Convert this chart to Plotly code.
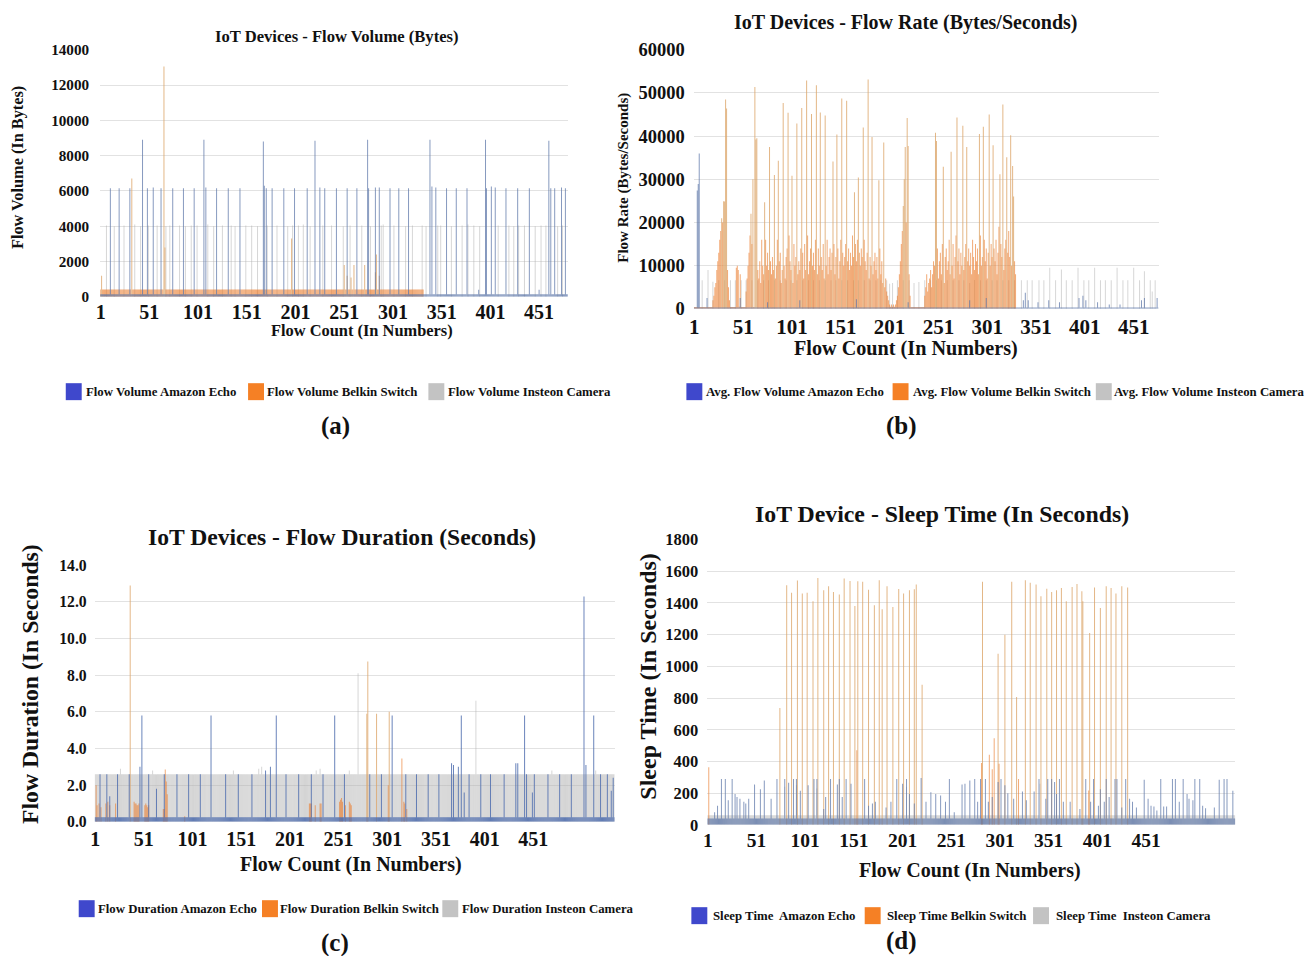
import numpy as np
import plotly.graph_objects as go

FONT = "Liberation Serif"
W, H = 1309, 956

DEVICES = ["Amazon Echo", "Belkin Switch", "Insteon Camera"]
LEGEND_COLORS = ["#3f48cc", "#f58025", "#c3c3c3"]
X_TICKS = [1, 51, 101, 151, 201, 251, 301, 351, 401, 451]

# ---------------- (a) Flow Volume (Bytes) ----------------
n_a = 480
echo_a_runs = [(1, 480, 150)]
echo_a_spikes = {44: 8900, 107: 8900, 168: 8800, 221: 8850, 275: 8900, 339: 8900, 396: 8900, 461: 8850,
                 11: 6150, 20: 6150, 31: 6150, 49: 6150, 55: 6200, 63: 6150, 75: 6150, 86: 6150, 97: 6150,
                 109: 6200, 120: 6150, 132: 6150, 144: 6150, 169: 6300, 171: 6150, 177: 6150, 189: 6150,
                 200: 6150, 213: 6150, 226: 6200, 231: 6150, 243: 6150, 254: 6150, 264: 6150, 276: 6150,
                 283: 6200, 287: 6200, 298: 6150, 307: 6150, 317: 6150, 341: 6250, 345: 6200, 356: 6150,
                 366: 6150, 377: 6150, 397: 6150, 402: 6250, 406: 6200, 417: 6150, 429: 6150, 441: 6150,
                 463: 6150, 467: 6150, 474: 6200, 478: 6150, 389: 400, 451: 400}
belkin_a_runs = [(1, 332, 420)]
belkin_a_spikes = {2: 1200, 33: 6700, 66: 13050, 67: 2800, 197: 3300, 251: 1800, 254: 1200, 258: 1100,
                   261: 1800, 272: 1800, 283: 1400, 284: 2400, 287: 1200}
camera_a_runs = []
camera_a_spikes = {7: 4050, 15: 4000, 25: 4050, 36: 4100, 42: 4000, 50: 4050, 59: 4050, 68: 4000, 72: 4050,
                   82: 4050, 88: 4000, 94: 4050, 100: 4050, 111: 4100, 117: 4000, 126: 4050, 135: 4050,
                   139: 4000, 150: 4050, 156: 4050, 162: 4000, 172: 4050, 182: 4050, 193: 4000, 198: 4050,
                   204: 4050, 209: 4100, 216: 4000, 229: 4050, 238: 4050, 250: 4000, 257: 4050, 269: 4050,
                   278: 4000, 289: 4050, 291: 4100, 302: 4050, 314: 4000, 321: 4050, 331: 4050, 335: 4000,
                   347: 4050, 350: 4050, 361: 4000, 372: 4050, 378: 4100, 384: 4050, 390: 4000, 409: 4050,
                   420: 4050, 425: 4000, 430: 4050, 436: 4050, 447: 4000, 453: 4050, 458: 4050, 470: 4000,
                   475: 4050}

# ---------------- (b) Flow Rate (Bytes/Seconds) ----------------
n_b = 476
echo_b_runs = [(1, 476, 300)]
echo_b_spikes = {4: 27400, 5: 28900, 6: 36000, 14: 2500, 48: 2500, 76: 1500, 109: 2000, 167: 2200, 220: 1500,
                 283: 2000, 300: 2500, 338: 2000, 340: 3700, 343: 2000, 353: 1500, 364: 2000, 375: 1500,
                 395: 2500, 399: 3000, 402: 2000, 414: 1500, 426: 1000, 437: 1000, 459: 2000, 462: 2500,
                 475: 2500}
belkin_b_runs = [(1, 330, 400)]
# dense mid-level flow rates, in thousands of bytes/second: (first flow, values...)
belkin_b_segments_k = [
    (20, [2, 3, 5, 6, 9, 11, 13, 16, 18, 21, 20, 24.9, 48.5, 46.4, 12, 9, 5, 2]),
    (44, [9.5, 10, 9, 0.5, 8]),
    (54, [4, 7, 10, 13, 17, 22, 15, 30]),
    (66, [9, 7, 11, 6, 16, 10, 8, 12, 7, 10, 13, 9, 6, 11, 8,
          12, 9, 14, 7, 10, 16, 8, 11, 13, 6, 9, 15, 10, 7, 12,
          14, 8, 17, 11, 9, 13, 6, 15, 10, 12, 16, 8, 11, 9, 14,
          10, 13, 7, 15, 9, 12, 17, 8, 11, 14, 6, 10, 13, 9, 16,
          11, 8, 14, 10, 17, 12, 9, 15, 7, 13, 10, 16, 8, 12, 14,
          9, 13, 11, 15, 8, 12, 10, 14, 7, 11, 16, 9, 13, 10, 12,
          15, 8, 11, 14, 9, 13, 10, 17, 12, 8, 15, 11, 16, 9, 13,
          10, 14, 12, 8, 16, 11, 9, 13, 15, 7, 12, 10, 14, 8, 11,
          13, 9, 12, 7, 10, 14, 8, 11, 6, 9, 5, 7, 4, 3, 2]),
    (201, [1, 0.5, 1, 0.5, 1, 0.5, 1]),
    (208, [2, 3, 5, 8, 11, 15, 18, 23.8, 30, 37.5, 20, 44.2, 37.7, 8, 3]),
    (237, [3, 5, 8, 4, 6, 7, 9, 5, 8, 11]),
    (247, [10, 12, 9, 14, 7, 11, 13, 8, 15, 10, 6, 12, 14, 9, 11,
           16, 8, 13, 10, 15, 7, 12, 17, 9, 11, 14, 8, 13, 10, 16,
           9, 12, 15, 7, 11, 14, 10, 13, 8, 16, 12, 9, 15, 11, 14,
           8, 13, 17, 10, 12, 9, 16, 11, 14, 7, 13, 18, 10, 15, 12,
           9, 14, 11, 16, 8, 13, 19, 10, 15, 12, 17, 9, 14, 16, 11,
           13, 18, 12, 15, 10, 14, 13, 11, 8]),
]
belkin_b_spikes = {32: 24850, 33: 48460, 34: 46400, 63: 51400, 64: 39200, 65: 39500, 73: 24700, 74: 16000,
                   78: 37500, 83: 31000, 87: 34300, 92: 47700, 97: 45400, 101: 30800, 106: 42900, 111: 46500,
                   116: 52900, 121: 45100, 126: 51800, 130: 45500, 135: 44800, 143: 34100, 147: 40400,
                   152: 48700, 157: 48200, 165: 27000, 169: 30400, 174: 42000, 179: 53100, 183: 39800,
                   190: 29800, 195: 38500, 248: 40800, 249: 38900, 256: 32900, 264: 36400, 270: 44300,
                   276: 42400, 280: 37500, 293: 40500, 297: 42200, 303: 45000, 307: 37900, 314: 31200,
                   317: 47300, 321: 35100, 325: 40200, 327: 33100, 328: 26000}
camera_b_runs = []
camera_b_spikes = {9: 6600, 15: 9000, 20: 6300, 26: 6600, 32: 6600, 38: 6600, 43: 6600, 49: 6600, 54: 6600,
                   60: 6600, 66: 6600, 72: 6600, 77: 6600, 83: 6600, 89: 6600, 95: 6600, 100: 6600, 106: 6600,
                   112: 6600, 118: 6600, 123: 6600, 129: 6600, 135: 6600, 141: 6600, 146: 6600, 152: 6600,
                   158: 6600, 164: 6600, 169: 6600, 175: 6600, 181: 6600, 187: 6600, 192: 6600, 198: 6600,
                   201: 5800, 204: 6000, 209: 6600, 215: 6600, 221: 6600, 226: 6000, 231: 6200, 237: 6600,
                   243: 6600, 249: 6600, 254: 6600, 260: 6600, 266: 6600, 272: 6600, 277: 6600, 283: 6000,
                   288: 6700, 294: 6600, 300: 6600, 306: 6600, 311: 6600, 317: 6600, 323: 6600, 329: 6600,
                   336: 6600, 342: 6600, 347: 6600, 354: 6600, 359: 6600, 365: 9500, 371: 6600, 377: 9100,
                   382: 6600, 388: 6600, 394: 9500, 400: 6600, 405: 6600, 411: 9500, 417: 6600, 422: 6600,
                   428: 6600, 434: 9500, 440: 6600, 445: 6600, 451: 9500, 457: 6600, 462: 8700, 468: 6600,
                   470: 4000, 473: 6600}

# ---------------- (c) Flow Duration (Seconds) ----------------
n_c = 534
echo_c_runs = [(1, 534, 0.25)]
echo_c_spikes = {6: 2.6, 13: 2.6, 16: 1.4, 24: 2.6, 36: 2.6, 47: 3.0, 49: 5.8, 56: 2.6, 64: 1.8, 72: 2.6,
                 85: 2.6, 97: 2.6, 109: 2.6, 120: 5.8, 135: 2.6, 148: 2.6, 162: 2.6, 176: 2.8, 181: 3.0,
                 187: 5.8, 197: 2.6, 210: 2.6, 223: 2.6, 235: 2.6, 247: 5.8, 257: 2.6, 283: 2.6, 295: 2.6,
                 306: 5.8, 320: 2.6, 331: 2.6, 343: 2.6, 354: 2.6, 367: 3.2, 369: 3.1, 374: 3.0, 377: 5.8,
                 380: 1.6, 385: 2.6, 397: 2.6, 407: 2.6, 421: 2.6, 433: 3.2, 435: 3.2, 442: 5.8, 444: 2.6,
                 450: 1.6, 452: 2.6, 466: 2.6, 478: 2.6, 490: 2.6, 503: 12.3, 505: 3.1, 513: 5.8, 520: 2.6,
                 527: 2.6, 531: 1.7, 533: 2.4}
belkin_c_runs = []
belkin_c_spikes = {2: 2.0, 3: 0.9, 5: 1.0, 7: 0.8, 12: 1.0, 14: 1.1, 16: 0.9, 22: 1.0, 37: 12.9,
                   41: 1.1, 42: 1.0, 43: 1.0, 44: 0.9, 45: 0.9, 46: 1.0, 52: 0.9, 53: 1.0, 54: 0.9,
                   55: 0.8, 56: 0.9, 71: 0.7, 72: 0.7, 73: 2.85, 74: 2.2, 75: 1.5, 93: 0.3, 221: 1.0,
                   222: 1.0, 223: 1.0, 227: 0.9, 232: 1.0, 233: 1.0, 252: 1.1, 253: 1.2, 254: 1.3,
                   255: 1.1, 258: 0.9, 262: 1.1, 263: 1.0, 264: 0.9, 280: 5.9, 281: 8.75, 290: 5.9,
                   302: 2.0, 303: 6.0, 316: 3.45, 318: 1.1, 319: 1.0, 321: 0.7}
camera_c_runs = [(1, 534, 2.6)]
camera_c_spikes = {27: 2.9, 60: 2.8, 143: 2.8, 169: 2.9, 172: 3.0, 228: 2.8, 232: 2.9, 262: 2.8,
                   271: 8.1, 392: 6.6, 470: 2.8, 515: 2.8}

# ---------------- (d) Sleep Time (In Seconds) ----------------
n_d = 542
echo_d_runs = [(1, 542, 40)]
echo_d_spikes = {15: 290, 19: 290, 26: 290, 72: 290, 80: 290, 89: 290, 92: 290, 110: 290, 113: 290,
                 127: 290, 136: 290, 143: 290, 162: 290, 195: 290, 205: 290, 220: 295, 249: 290, 275: 290,
                 281: 290, 286: 290, 302: 290, 341: 290, 350: 290, 354: 290, 362: 290, 389: 290, 397: 290,
                 410: 290, 419: 290, 421: 290, 430: 290, 449: 285, 466: 290, 478: 290, 481: 290, 489: 290,
                 501: 290, 506: 290, 526: 285, 531: 290, 534: 290,
                 8: 80, 11: 120, 22: 155, 29: 195, 31: 175, 34: 165, 38: 145, 40: 135, 43: 165, 49: 255,
                 55: 225, 59: 280, 66: 165, 84: 265, 96: 215, 104: 250, 120: 100, 122: 175, 134: 255,
                 139: 175, 148: 260, 166: 120, 170: 135, 173: 145, 184: 110, 189: 145, 201: 260, 208: 195,
                 213: 135, 225: 145, 230: 205, 235: 195, 240: 185, 245: 145, 254: 80, 262: 255, 265: 260,
                 270: 280, 278: 145, 289: 145, 293: 175, 299: 270, 306: 250, 309: 200, 315: 165, 324: 210,
                 328: 155, 336: 210, 348: 165, 357: 270, 359: 195, 366: 145, 373: 145, 383: 100, 394: 145,
                 402: 120, 404: 225, 408: 145, 413: 175, 426: 110, 434: 165, 437: 145, 441: 110, 453: 165,
                 456: 120, 459: 115, 462: 90, 469: 115, 472: 115, 485: 145, 493: 195, 495: 165, 499: 155,
                 509: 120, 512: 105, 521: 110, 540: 215}
belkin_d_runs = []
belkin_d_spikes = {2: 364, 75: 737, 82: 1511, 87: 1465, 93: 1541, 98: 1459, 103: 1465, 109: 1410, 114: 1558,
                   120: 1480, 125: 1505, 130: 1469, 136: 1453, 141: 1554, 147: 1539, 152: 1381, 154: 470,
                   155: 1537, 160: 1533, 166: 1484, 172: 1385, 177: 1543, 180: 1360, 185: 1505, 191: 1375,
                   197: 1488, 202: 1459, 208: 1480, 213: 1486, 215: 1516, 221: 884,
                   282: 390, 283: 1533, 290: 442, 293: 350, 295: 547, 299: 1080, 300: 385, 306: 1200,
                   313: 1533, 318: 806, 320: 290, 327: 1543, 332: 1528, 338: 1516, 343: 1442, 349: 1490,
                   354: 1469, 359: 1480, 364: 1495, 369: 1410, 375: 1501, 380: 1520, 385: 1474, 386: 1410,
                   392: 217, 393: 1211, 398: 1497, 404: 1368, 410: 1505, 415: 1495, 420: 1459, 426: 1505,
                   432: 1497}
camera_d_runs = [(1, 542, 60)]
camera_d_spikes = {80: 240, 92: 250, 113: 230, 205: 240, 342: 260}


def build(n, runs=(), spikes=None, segments=(), scale=1.0):
    y = np.zeros(n)
    for a, b, v in runs:
        y[a - 1:b] = v
    for start, vals in segments:
        y[start - 1:start - 1 + len(vals)] = np.array(vals) * scale
    for f, v in (spikes or {}).items():
        y[f - 1] = v
    return y


ECHO_BAR = "rgba(95,120,170,0.75)"
ECHO_DENSE = "rgba(80,110,175,0.85)"
CAM_BAR = "rgba(175,175,175,0.5)"
ORANGE_BAR = "rgba(236,128,50,0.66)"
TAN_BAR = "rgba(220,165,105,0.8)"

panels = [
    dict(n=n_a, ax="", echo=build(n_a, echo_a_runs, echo_a_spikes),
         belkin=build(n_a, belkin_a_runs, belkin_a_spikes),
         camera=build(n_a, camera_a_runs, camera_a_spikes), tan_above=1000, echo_col=ECHO_BAR),
    dict(n=n_b, ax="2", echo=build(n_b, echo_b_runs, echo_b_spikes),
         belkin=build(n_b, belkin_b_runs, belkin_b_spikes, belkin_b_segments_k, 1000.0),
         camera=build(n_b, camera_b_runs, camera_b_spikes), tan_above=20000, echo_col=ECHO_BAR),
    dict(n=n_c, ax="3", echo=build(n_c, echo_c_runs, echo_c_spikes),
         belkin=build(n_c, belkin_c_runs, belkin_c_spikes),
         camera=build(n_c, camera_c_runs, camera_c_spikes), tan_above=3.5, echo_col=ECHO_DENSE),
    dict(n=n_d, ax="4", echo=build(n_d, echo_d_runs, echo_d_spikes),
         belkin=build(n_d, belkin_d_runs, belkin_d_spikes),
         camera=build(n_d, camera_d_runs, camera_d_spikes), tan_above=600, echo_col=ECHO_BAR),
]

fig = go.Figure()
for p in panels:
    x = np.arange(1, p["n"] + 1)
    xa, ya = "x" + p["ax"], "y" + p["ax"]
    common = dict(x=x, width=1.03, xaxis=xa, yaxis=ya, showlegend=False, hoverinfo="skip",
                  marker_line_width=0)
    fig.add_trace(go.Bar(y=p["camera"], marker_color=CAM_BAR, name="Insteon Camera", **common))
    bcols = [TAN_BAR if v > p["tan_above"] else ORANGE_BAR for v in p["belkin"]]
    fig.add_trace(go.Bar(y=p["belkin"], marker_color=bcols, name="Belkin Switch", **common))
    fig.add_trace(go.Bar(y=p["echo"], marker_color=p["echo_col"], name="Amazon Echo", **common))


# pixel -> paper helpers (with a small correction measured from the rendered page)
def px2x(v):
    return (v - 2) / W


def px2y(v):
    return 1 - ((v - 8.6) / 0.982) / H


def font(size, color="#111"):
    return dict(family=FONT, size=size, color=color, weight="bold")


def xaxis(left, right, n, anchor, size, standoff):
    return dict(domain=[px2x(left), px2x(right)], range=[0.5, n + 0.5], anchor=anchor,
                tickmode="array", tickvals=X_TICKS, showgrid=False, zeroline=False, showline=False,
                ticks="", tickfont=font(size), ticklabelstandoff=standoff, fixedrange=True)


def yaxis(top, bottom, rng, dtick, fmt, anchor, size, standoff):
    return dict(domain=[px2y(bottom), px2y(top)], range=rng, dtick=dtick, tick0=0, tickformat=fmt,
                anchor=anchor, showgrid=True, gridcolor="#e2e2e2", gridwidth=1, zeroline=False,
                showline=False, ticks="", tickfont=font(size), ticklabelstandoff=standoff,
                fixedrange=True)


annotations = []
shapes = []


def text(t, x, y, size, angle=0, anchor="center"):
    annotations.append(dict(text=t, x=px2x(x), y=px2y(y), xref="paper", yref="paper",
                            showarrow=False, font=font(size), textangle=angle,
                            xanchor=anchor, yanchor="middle"))


def legend_row(prefix, items, y, size=12.8, seps=(" ", " ", " ")):
    # items: (swatch left px, text left px) for each device
    for k, (sx, tx) in enumerate(items):
        shapes.append(dict(type="rect", xref="paper", yref="paper",
                           x0=px2x(sx), x1=px2x(sx + 16), y0=px2y(y + 8.5), y1=px2y(y - 8.5),
                           fillcolor=LEGEND_COLORS[k], line=dict(width=0)))
        text(prefix + seps[k] + DEVICES[k], tx, y, size, anchor="left")


text("IoT Devices - Flow Volume (Bytes)", 335, 36, 16.6)
text("Flow Volume (In Bytes)", 14, 167, 16.3, -90)
text("Flow Count (In Numbers)", 360, 331, 16.4)
text("(a)", 334, 426, 25)
legend_row("Flow Volume", [(63, 81), (246, 263), (427, 445)], 392)

text("IoT Devices - Flow Rate (Bytes/Seconds)", 906, 22, 20)
text("Flow Rate (Bytes/Seconds)", 622, 178, 15, -90)
text("Flow Count (In Numbers)", 906, 349, 20.2)
text("(b)", 902, 426, 25)
legend_row("Avg. Flow Volume", [(686, 704), (893, 911), (1097, 1113)], 392)

text("IoT Devices - Flow Duration (Seconds)", 340, 538, 23.6)
text("Flow Duration (In Seconds)", 27, 685, 23.7, -90)
text("Flow Count (In Numbers)", 349, 866, 20)
text("(c)", 333, 944, 25)
legend_row("Flow Duration", [(76, 93), (260, 276), (441, 459)], 910)

text("IoT Device - Sleep Time (In Seconds)", 943, 515, 23.8)
text("Sleep Time (In Seconds)", 648, 678, 24, -90)
text("Flow Count (In Numbers)", 971, 872, 20)
text("(d)", 902, 942, 25)
legend_row("Sleep Time", [(691, 711), (865, 885), (1034, 1055)], 917, seps=("  ", " ", "  "))

fig.update_layout(
    width=W, height=H, margin=dict(l=0, r=0, t=0, b=0),
    paper_bgcolor="white", plot_bgcolor="white", barmode="overlay", showlegend=False,
    font=dict(family=FONT, color="#111"),
    xaxis=xaxis(97.5, 567, n_a, "y", 20, 1),
    yaxis=yaxis(49.3, 297, [0, 14010], 2000, "d", "x", 15.2, 10),
    xaxis2=xaxis(693.5, 1160, n_b, "y2", 21, 3),
    yaxis2=yaxis(49.3, 309, [0, 60040], 10000, "d", "x2", 18.5, 8),
    xaxis3=xaxis(92, 614, n_c, "y3", 20, 3),
    yaxis3=yaxis(565.7, 823, [0, 14.01], 2, ".1f", "x3", 15.7, 7),
    xaxis4=xaxis(707, 1237, n_d, "y4", 19.5, 2),
    yaxis4=yaxis(540, 826, [0, 1801], 200, "d", "x4", 16.5, 8),
    annotations=annotations,
    shapes=shapes,
)

fig.write_html("out.html", config={"displayModeBar": False},
               post_script="document.body.style.margin='0';")
